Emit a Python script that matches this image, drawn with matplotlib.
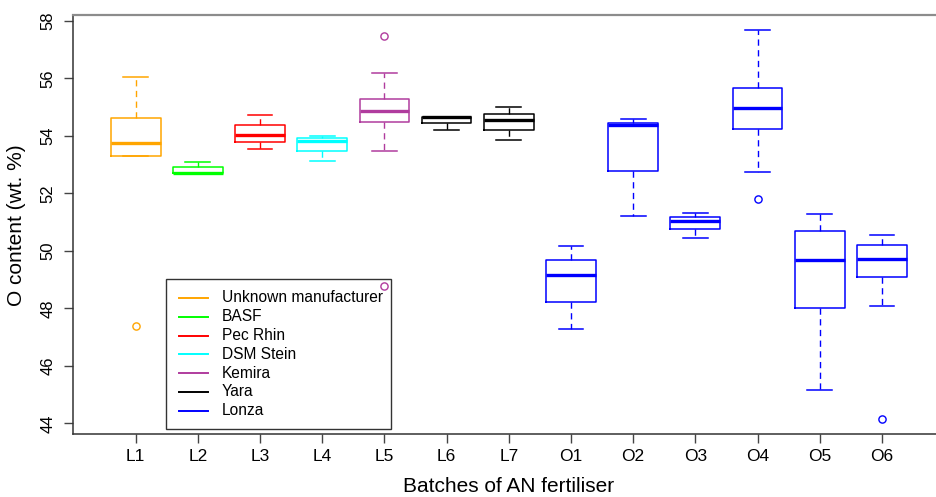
import matplotlib
matplotlib.use("Agg")
import matplotlib.pyplot as plt
from matplotlib.lines import Line2D
from matplotlib.patches import Rectangle

plt.rcParams['font.family'] = ['Liberation Sans', 'DejaVu Sans']

# Batch labels and five-number summaries (O content, wt. %)
batches = ["L1", "L2", "L3", "L4", "L5", "L6", "L7",
           "O1", "O2", "O3", "O4", "O5", "O6"]
whisker_low = [53.30, 52.68, 53.55, 53.13, 53.46, 54.21, 53.84,
               47.27, 51.21, 50.45, 52.73, 45.15, 48.09]
q1 = [53.30, 52.69, 53.78, 53.47, 54.47, 54.43, 54.19,
      48.22, 52.77, 50.75, 54.23, 48.00, 49.09]
median = [53.74, 52.72, 54.04, 53.82, 54.87, 54.64, 54.54,
          49.17, 54.36, 51.03, 54.97, 49.68, 49.71]
q3 = [54.61, 52.90, 54.37, 53.91, 55.29, 54.66, 54.77,
      49.67, 54.45, 51.16, 55.67, 50.68, 50.19]
whisker_high = [56.03, 53.08, 54.72, 54.00, 56.17, 54.66, 55.00,
                50.16, 54.57, 51.32, 57.67, 51.29, 50.54]
outliers = [[47.40], [], [], [], [57.46, 48.78], [], [],
            [], [], [], [51.81], [], [44.16]]

# Manufacturer of each batch
manufacturers = ["Unknown manufacturer", "BASF", "Pec Rhin", "DSM Stein",
                 "Kemira", "Yara", "Lonza"]
manufacturer_colors = ["#FFA500", "#00FF00", "#FF0000", "#00FFFF",
                       "#B03C9E", "#000000", "#0000FF"]
batch_maker = [0, 1, 2, 3, 4, 5, 5, 6, 6, 6, 6, 6, 6]

W, H = 936, 497
fig = plt.figure(figsize=(W / 100, H / 100), dpi=100)

# axes placement in pixels
ax_left, ax_right, ax_top, ax_bottom = 72.5, 946.0, 15.0, 434.0
ax = fig.add_axes([ax_left / W, 1 - ax_bottom / H,
                   (ax_right - ax_left) / W, (ax_bottom - ax_top) / H])

stats = []
for i, name in enumerate(batches):
    stats.append(dict(label=name, med=median[i], q1=q1[i], q3=q3[i],
                      whislo=whisker_low[i], whishi=whisker_high[i],
                      fliers=outliers[i]))

positions = list(range(1, len(batches) + 1))
art = ax.bxp(stats, positions=positions, widths=0.8, capwidths=0.4,
             showfliers=True, patch_artist=False, manage_ticks=False)

for i in range(len(batches)):
    c = manufacturer_colors[batch_maker[i]]
    art['boxes'][i].set(color=c, linewidth=1.1)
    art['medians'][i].set(color=c, linewidth=2.4, solid_capstyle='butt')
    for w in art['whiskers'][2 * i:2 * i + 2]:
        w.set(color=c, linewidth=1.0, linestyle=(0, (4.5, 3.2)))
    for cp in art['caps'][2 * i:2 * i + 2]:
        cp.set(color=c, linewidth=1.1)
    art['fliers'][i].set(marker='o', markersize=5.2, markerfacecolor='none',
                         markeredgecolor=c, markeredgewidth=1.0,
                         linestyle='none')

ax.set_xlim(-0.015, 14.03)
ax.set_ylim(43.63, 58.20)

ax.set_xticks(positions)
ax.set_xticklabels(batches, fontsize=12.5)
ax.set_yticks([44, 46, 48, 50, 52, 54, 56, 58])
ax.set_yticklabels(["44", "46", "48", "50", "52", "54", "56", "58"],
                   fontsize=12, rotation=90, va='center')
ax.tick_params(axis='x', length=6.5, width=1.0, color='#444444', pad=4)
ax.tick_params(axis='y', length=6.5, width=1.0, color='#444444', pad=6)

for s in ('left', 'bottom'):
    ax.spines[s].set_color('#333333')
    ax.spines[s].set_linewidth(1.1)
ax.spines['top'].set_color('#8C8C8C')
ax.spines['top'].set_linewidth(1.6)
ax.spines['right'].set_visible(False)

fig.text(509 / W, 1 - 487 / H, "Batches of AN fertiliser",
         fontsize=15, ha='center', va='center')
fig.text(17 / W, 1 - 225 / H, "O content (wt. %)",
         fontsize=15, ha='center', va='center', rotation=90)

# legend box drawn in pixel coordinates
def fx(px):
    return px / W

def fy(py):
    return 1 - py / H

lg_l, lg_r, lg_t, lg_b = 165.7, 391.0, 279.0, 429.0
fig.patches.append(Rectangle((fx(lg_l), fy(lg_b)), fx(lg_r) - fx(lg_l),
                             fy(lg_t) - fy(lg_b), transform=fig.transFigure,
                             facecolor='none', edgecolor='#333333',
                             linewidth=1.0, zorder=5))
row0, row_step = 298.0, 18.8
for k, (name, col) in enumerate(zip(manufacturers, manufacturer_colors)):
    yy = fy(row0 + k * row_step)
    fig.add_artist(Line2D([fx(179), fx(208)], [yy, yy], color=col,
                          linewidth=1.4, transform=fig.transFigure, zorder=6))
    fig.text(fx(222), yy, name, fontsize=11.2, ha='left', va='center',
             zorder=6)

fig.savefig("out.png", dpi=100)
